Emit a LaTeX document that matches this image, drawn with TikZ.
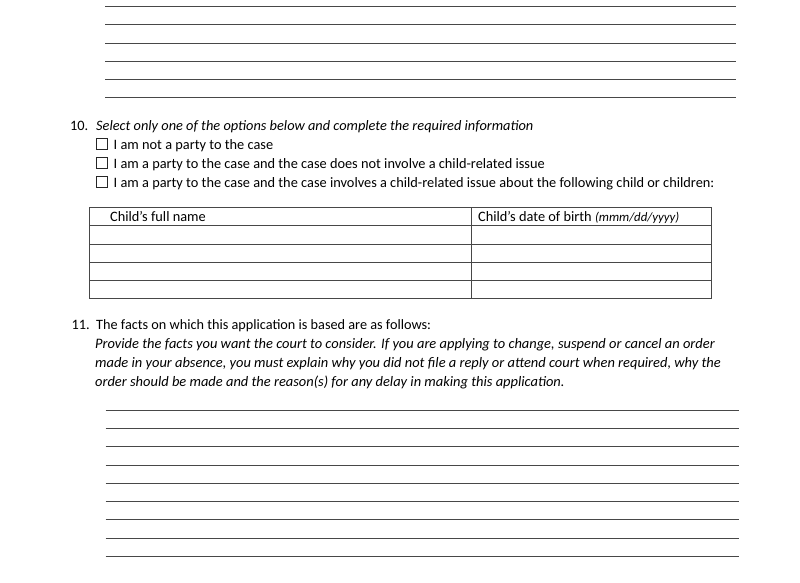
\documentclass[tikz,border=0pt]{standalone}
\usepackage{fontspec}
\setmainfont{Carlito}
\begin{document}
\begin{tikzpicture}[x=1pt,y=-1pt,
  rule/.style={draw=black!72, line width=0.9pt},
  tbl/.style={draw=black!72, line width=0.9pt},
  txt/.style={anchor=base west, inner sep=0pt, font=\fontsize{14.35}{17}\selectfont},
  para/.style={anchor=base west, inner sep=0pt, font=\fontsize{14.45}{17}\selectfont\itshape},
  cbox/.style={draw=black!85, line width=0.7pt, minimum size=11pt, inner sep=0pt, anchor=south west}]
\useasboundingbox[fill=white] (0,0) rectangle (800,582);

% top answer lines
\foreach \y [count=\i] in {6.7,24.7,43,61,79.3,97.3}{
  \coordinate (tl\i) at (105,\y);
  \coordinate (tr\i) at (735.5,\y);
  \draw[rule] (tl\i) -- (tr\i);
}

% question 10
\node[txt,anchor=base east] (q10n) at (88.5,130.7) {10.};
\node[txt] (q10t) at (96,130.7) {\itshape Select only one of the options below and complete the required information};
\node[cbox] (b1) at (95.5,149.3) {};
\node[txt] (o1) at (113.5,149.3) {I am not a party to the case};
\node[cbox] (b2) at (95.5,168.5) {};
\node[txt] (o2) at (113.5,168.5) {I am a party to the case and the case does not involve a child-related issue};
\node[cbox] (b3) at (95.5,187.7) {};
\node[txt] (o3) at (113.5,187.7) {I am a party to the case and the case involves a child-related issue about the following child or children:};

% table
\coordinate (tA) at (89,207.3);
\coordinate (tB) at (711,298.5);
\draw[tbl] (tA) rectangle (tB);
\foreach \y [count=\i] in {225.7,244,262.2,280.4}{
  \coordinate (rl\i) at (89,\y);
  \coordinate (rr\i) at (711,\y);
  \draw[tbl] (rl\i) -- (rr\i);
}
\coordinate (cT) at (471.3,207.3);
\coordinate (cB) at (471.3,298.5);
\draw[tbl] (cT) -- (cB);
\node[txt] (h1) at (110,221.7) {Child’s full name};
\node[txt] (h2) at (478,221.7) {Child’s date of birth {\itshape\fontsize{12.8}{14}\selectfont (mmm/dd/yyyy)}};

% question 11
\node[txt,anchor=base east] (q11n) at (90,329.5) {11.};
\node[txt,font=\fontsize{14.25}{17}\selectfont] (q11t) at (96,329.5) {The facts on which this application is based are as follows:};
\node[para] (p1) at (95,348.3) {Provide the facts you want the court to consider. If you are applying to change, suspend or cancel an order};
\node[para] (p2) at (95,367.4) {made in your absence, you must explain why you did not file a reply or attend court when required, why the};
\node[para] (p3) at (95,386.5) {order should be made and the reason(s) for any delay in making this application.};

% bottom answer lines
\foreach \y [count=\i] in {410.3,428.5,446.7,465,483.3,501.5,519.8,538,556.3}{
  \coordinate (bl\i) at (105.5,\y);
  \coordinate (br\i) at (739,\y);
  \draw[rule] (bl\i) -- (br\i);
}
\end{tikzpicture}
\end{document}
